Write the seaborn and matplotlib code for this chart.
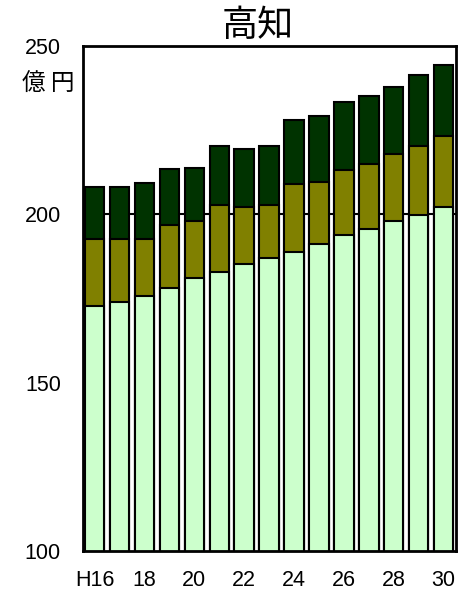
import numpy as np
import pandas as pd
import matplotlib
matplotlib.use('Agg')
import matplotlib.pyplot as plt
import seaborn as sns

# 年度 (H16〜H30)
anos = ['H16', 'H17', 'H18', 'H19', 'H20', 'H21', 'H22', 'H23',
        'H24', 'H25', 'H26', 'H27', 'H28', 'H29', 'H30']
rotulos_x = ['H16', '', '18', '', '20', '', '22', '', '24', '', '26', '', '28', '', '30']

# 各区分の値 (億円)
base = [172.8, 174.0, 175.7, 178.2, 181.1, 182.8, 185.2, 186.9,
        188.8, 191.1, 194.0, 195.7, 198.0, 199.9, 202.2]
meio = [19.9, 18.7, 17.0, 18.6, 16.9, 20.0, 17.0, 15.9,
        20.3, 18.6, 19.3, 19.3, 19.9, 20.4, 21.1]
topo = [15.5, 15.5, 16.5, 16.6, 15.9, 17.5, 17.1, 17.5,
        18.9, 19.5, 20.1, 20.1, 20.0, 21.2, 21.2]

df = pd.DataFrame({'ano': anos, 'base': base, 'meio': meio, 'topo': topo})
df['c1'] = df['base']
df['c2'] = df['base'] + df['meio']
df['c3'] = df['c2'] + df['topo']

sns.set_style('white')
plt.rcParams['font.family'] = ['Liberation Sans', 'Noto Sans CJK JP', 'DejaVu Sans']
plt.rcParams['text.color'] = 'black'
plt.rcParams['xtick.color'] = 'black'
plt.rcParams['ytick.color'] = 'black'

fig = plt.figure(figsize=(4.75, 6.01), dpi=100)
ax = fig.add_axes([83/475, 1-551/601, (456-83)/475, (551-46)/601])

# 積み上げ (合計から順に重ねる)
cores = [('c3', '#003300'), ('c2', '#808000'), ('c1', '#ccffcc')]
for col, cor in cores:
    sns.barplot(data=df, x='ano', y=col, color=cor, saturation=1, width=0.78,
                edgecolor='black', linewidth=1.5, ax=ax)
for p in ax.patches:
    p.set_zorder(3)

ax.axhline(200, color='black', lw=1.5, zorder=1)

ax.set_ylim(100, 250)
ax.set_xlim(-0.47, 14.5)
ax.set_yticks([100, 150, 200, 250])
ax.set_xticks(range(len(anos)))
ax.set_xticklabels(rotulos_x)
ax.set_xlabel('')
ax.set_ylabel('')
ax.tick_params(axis='y', direction='in', length=6, width=1.5, labelsize=15.5, pad=16,
               labelcolor='black')
ax.tick_params(axis='x', length=0, labelsize=15.5, pad=14, labelcolor='black')
for s in ax.spines.values():
    s.set_visible(True)
    s.set_linewidth(2)
    s.set_color('black')
    s.set_zorder(5)

fig.text(258/475, 1-26/601, '高知', ha='center', va='center', fontsize=26,
         color='black', family=['Noto Sans CJK JP', 'DejaVu Sans'])
fig.text(48/475, 1-84/601, '億 円', ha='center', va='center', fontsize=17,
         color='black', family=['Noto Sans CJK JP', 'DejaVu Sans'])

fig.savefig('out.png', dpi=100)
